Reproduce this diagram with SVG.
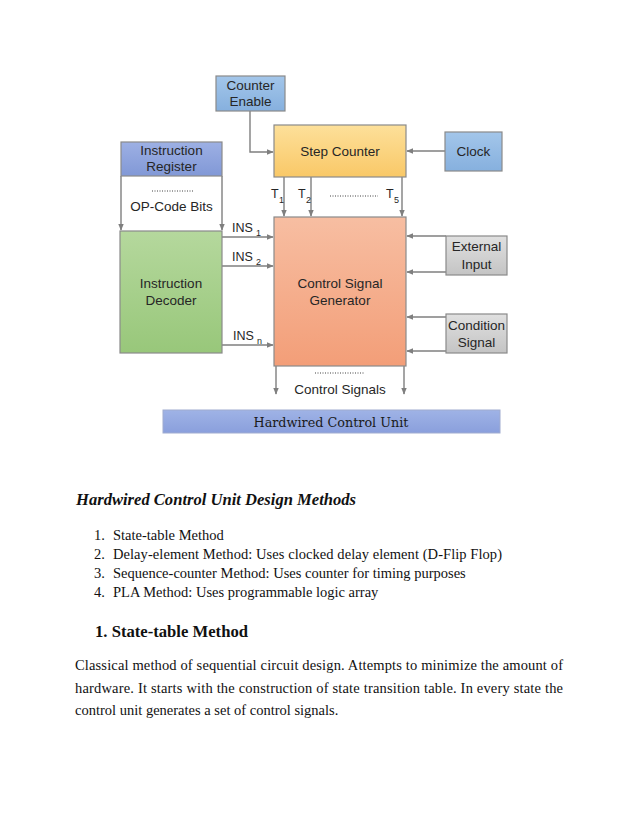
<svg xmlns="http://www.w3.org/2000/svg" width="638" height="826" viewBox="0 0 638 826">
<style>
.lbl{font-family:"Liberation Sans",Arial,sans-serif;font-size:13.5px;fill:#262626;text-anchor:middle}
.sm{font-family:"Liberation Sans",Arial,sans-serif;font-size:12.5px;fill:#262626}
.sub{font-family:"Liberation Sans",Arial,sans-serif;font-size:9px;fill:#262626}
.dots{stroke:#404040;stroke-width:1;stroke-dasharray:1 1.5}
.box{stroke:#8a8a8a;stroke-width:1.2}
.ln{stroke:#7f7f7f;stroke-width:1.4;fill:none}
.tr{font-family:"Liberation Serif","Times New Roman",serif;font-size:14.5px;fill:#111}
</style>
<defs>
<marker id="ah" viewBox="0 0 10 10" refX="9" refY="5" markerWidth="5" markerHeight="5" orient="auto"><path d="M0,1 L10,5 L0,9 Z" fill="#7f7f7f"/></marker>
<linearGradient id="gBlue" x1="0" y1="0" x2="0" y2="1"><stop offset="0" stop-color="#a3c6ea"/><stop offset="1" stop-color="#86b0de"/></linearGradient>
<linearGradient id="gIR" x1="0" y1="0" x2="0" y2="1"><stop offset="0" stop-color="#9db0e4"/><stop offset="1" stop-color="#8198d6"/></linearGradient>
<linearGradient id="gYel" x1="0" y1="0" x2="0" y2="1"><stop offset="0" stop-color="#fde09a"/><stop offset="1" stop-color="#f9c867"/></linearGradient>
<linearGradient id="gSal" x1="0" y1="0" x2="0" y2="1"><stop offset="0" stop-color="#f7bea2"/><stop offset="1" stop-color="#f39e78"/></linearGradient>
<linearGradient id="gGrn" x1="0" y1="0" x2="0" y2="1"><stop offset="0" stop-color="#b5d89d"/><stop offset="1" stop-color="#98c77a"/></linearGradient>
<linearGradient id="gGry" x1="0" y1="0" x2="0" y2="1"><stop offset="0" stop-color="#e0e0e0"/><stop offset="1" stop-color="#c4c4c4"/></linearGradient>
<linearGradient id="gBar" x1="0" y1="0" x2="0" y2="1"><stop offset="0" stop-color="#9fb3e6"/><stop offset="1" stop-color="#8a9fdc"/></linearGradient>
</defs>
<rect width="638" height="826" fill="#ffffff"/>

<g id="connectors">
<path class="ln" d="M250,111 V152 H273" marker-end="url(#ah)"/>
<path class="ln" d="M445,151 H407" marker-end="url(#ah)"/>
<path class="ln" d="M284,177 V216" marker-end="url(#ah)"/>
<path class="ln" d="M311,177 V216" marker-end="url(#ah)"/>
<path class="ln" d="M402,177 V216" marker-end="url(#ah)"/>
<path class="ln" d="M121,176 V230" marker-end="url(#ah)"/>
<path class="ln" d="M222,176 V230" marker-end="url(#ah)"/>
<path class="ln" d="M222,237 H273" marker-end="url(#ah)"/>
<path class="ln" d="M222,266 H273" marker-end="url(#ah)"/>
<path class="ln" d="M222,345 H273" marker-end="url(#ah)"/>
<path class="ln" d="M446,236 H407" marker-end="url(#ah)"/>
<path class="ln" d="M446,272 H407" marker-end="url(#ah)"/>
<path class="ln" d="M446,317 H407" marker-end="url(#ah)"/>
<path class="ln" d="M446,351 H407" marker-end="url(#ah)"/>
<path class="ln" d="M276,366 V394" marker-end="url(#ah)"/>
<path class="ln" d="M404,366 V394" marker-end="url(#ah)"/>
</g>

<g id="counter-enable">
<rect class="box" x="216" y="76" width="69" height="35" fill="url(#gBlue)"/>
<text class="lbl" x="250.5" y="90">Counter</text>
<text class="lbl" x="250.5" y="106">Enable</text>
</g>

<g id="step-counter">
<rect class="box" x="274" y="125" width="132" height="52" fill="url(#gYel)"/>
<text class="lbl" x="340" y="156">Step Counter</text>
</g>

<g id="clock">
<rect class="box" x="445" y="132" width="57" height="39" fill="url(#gBlue)"/>
<text class="lbl" x="473.5" y="156">Clock</text>
</g>

<g id="timing-labels">
<text class="sm" x="271" y="198">T</text><text class="sub" x="279" y="203">1</text>
<text class="sm" x="298" y="198">T</text><text class="sub" x="306" y="203">2</text>
<line class="dots" x1="330" y1="196" x2="378" y2="196"/>
<text class="sm" x="386" y="198">T</text><text class="sub" x="394" y="203">5</text>
</g>

<g id="instruction-register">
<rect class="box" x="121" y="142" width="101" height="34" fill="url(#gIR)"/>
<text class="lbl" x="171.5" y="155">Instruction</text>
<text class="lbl" x="171.5" y="171">Register</text>
<line class="dots" x1="152" y1="191" x2="194" y2="191"/>
<text class="lbl" x="171.5" y="211">OP-Code Bits</text>
</g>

<g id="instruction-decoder">
<rect class="box" x="120" y="231" width="102" height="122" fill="url(#gGrn)"/>
<text class="lbl" x="171" y="288">Instruction</text>
<text class="lbl" x="171" y="305">Decoder</text>
</g>

<g id="ins-labels">
<text class="sm" x="232" y="232">INS</text><text class="sub" x="256" y="236">1</text>
<text class="sm" x="232" y="261">INS</text><text class="sub" x="256" y="265">2</text>
<text class="sm" x="233" y="340">INS</text><text class="sub" x="257" y="344">n</text>
</g>

<g id="control-signal-generator">
<rect class="box" x="274" y="217" width="132" height="149" fill="url(#gSal)"/>
<text class="lbl" x="340" y="288">Control Signal</text>
<text class="lbl" x="340" y="305">Generator</text>
</g>

<g id="external-input">
<rect class="box" x="446" y="236" width="61" height="39" fill="url(#gGry)"/>
<text class="lbl" x="476.5" y="251">External</text>
<text class="lbl" x="476.5" y="269">Input</text>
</g>

<g id="condition-signal">
<rect class="box" x="446" y="314" width="61" height="39" fill="url(#gGry)"/>
<text class="lbl" x="476.5" y="330">Condition</text>
<text class="lbl" x="476.5" y="347">Signal</text>
</g>

<g id="control-signals">
<line class="dots" x1="315" y1="373" x2="365" y2="373"/>
<text class="lbl" x="340" y="394">Control Signals</text>
</g>

<g id="hardwired-bar">
<rect x="163" y="410" width="337" height="23" fill="url(#gBar)" stroke="#a0acd0" stroke-width="1"/>
<text x="331" y="427" font-family="'DejaVu Serif',serif" font-size="12.5" fill="#1a1a1a" text-anchor="middle" textLength="155" lengthAdjust="spacingAndGlyphs">Hardwired Control Unit</text>
</g>

<g id="text-body">
<text x="76" y="505" font-family="'Liberation Serif','Times New Roman',serif" font-size="16.5" font-weight="bold" font-style="italic" fill="#111" textLength="280" lengthAdjust="spacingAndGlyphs">Hardwired Control Unit Design Methods</text>
<text class="tr" x="94" y="540">1.</text><text class="tr" x="113" y="540">State-table Method</text>
<text class="tr" x="94" y="559">2.</text><text class="tr" x="113" y="559" textLength="389" lengthAdjust="spacing">Delay-element  Method: Uses clocked delay element (D-Flip Flop)</text>
<text class="tr" x="94" y="578">3.</text><text class="tr" x="113" y="578">Sequence-counter Method: Uses counter for timing purposes</text>
<text class="tr" x="94" y="597">4.</text><text class="tr" x="113" y="597">PLA Method: Uses programmable logic array</text>
<text x="95" y="637" font-family="'Liberation Serif','Times New Roman',serif" font-size="17" font-weight="bold" fill="#111" textLength="153" lengthAdjust="spacingAndGlyphs">1. State-table Method</text>
<text class="tr" x="75" y="670" textLength="488" lengthAdjust="spacing">Classical method of sequential circuit design. Attempts to minimize the amount of</text>
<text class="tr" x="75" y="693" textLength="488" lengthAdjust="spacing">hardware. It starts with the construction of state transition table. In every state the</text>
<text class="tr" x="75" y="715">control unit generates a set of control signals.</text>
</g>
</svg>
